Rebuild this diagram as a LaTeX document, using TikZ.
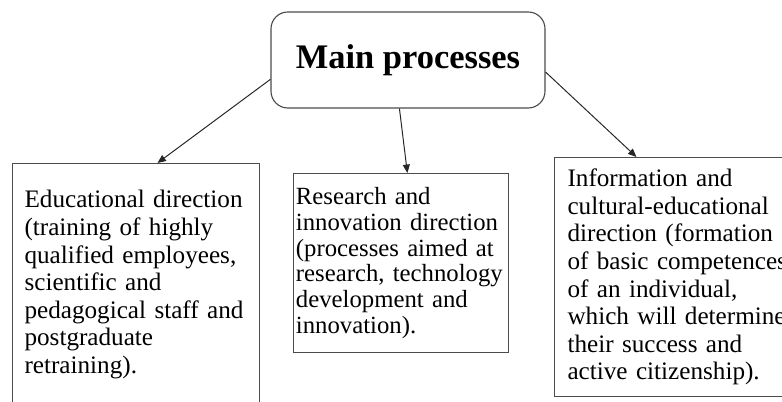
\documentclass[tikz,border=0pt]{standalone}
\usepackage{fontspec}
\setmainfont{Liberation Serif}
\usepackage{tikz}
\usetikzlibrary{arrows.meta}
\definecolor{boxline}{rgb}{0.30,0.30,0.30}

\begin{document}
\begin{tikzpicture}[
  head/.style={draw=boxline, line width=0.8pt, rounded corners=0.42cm,
               minimum width=6.85cm, minimum height=2.4cm,
               font=\fontsize{24.5}{28}\selectfont\bfseries},
  dirbox/.style={draw=boxline, line width=0.8pt, anchor=north west,
                 align=left, inner ysep=0pt,
                 font=\fontsize{17.9}{19.6}\selectfont},
  link/.style={-{Triangle[length=6pt, width=5pt]}, line width=0.7pt, black!85},
]
\useasboundingbox (0,0) rectangle (19.55,10.05);
\clip (0,0) rectangle (19.55,10.05);

%% Top box
\node[head] (main) at (10.2, 8.55) {Main processes};

%% Three directions
\node[dirbox, inner xsep=0.3cm, text width=5.575cm, minimum height=6.05cm]
  (edu) at (0.3, 5.975)
  {Educational direction\\(training of highly\\qualified employees,\\scientific and\\pedagogical staff and\\postgraduate\\retraining).};
\node[dirbox, inner xsep=0.06cm, text width=5.255cm, minimum height=4.475cm,
      font=\fontsize{17.6}{18.4}\selectfont]
  (res) at (7.325, 5.725)
  {Research and\\innovation direction\\(processes aimed at\\research, technology\\development and\\innovation).};
\node[dirbox, inner xsep=0.325cm, text width=5.75cm, minimum height=5.975cm]
  (info) at (13.85, 6.125)
  {Information and\\cultural-educational\\direction (formation\\of basic competences\\of an individual,\\which will determine\\their success and\\active citizenship).};

%% Arrows
\draw[link] (main.188) -- (edu.80);
\draw[link] (main.260) -- (res.86);
\draw[link] (main.-5) -- (info.111);
\end{tikzpicture}
\end{document}
